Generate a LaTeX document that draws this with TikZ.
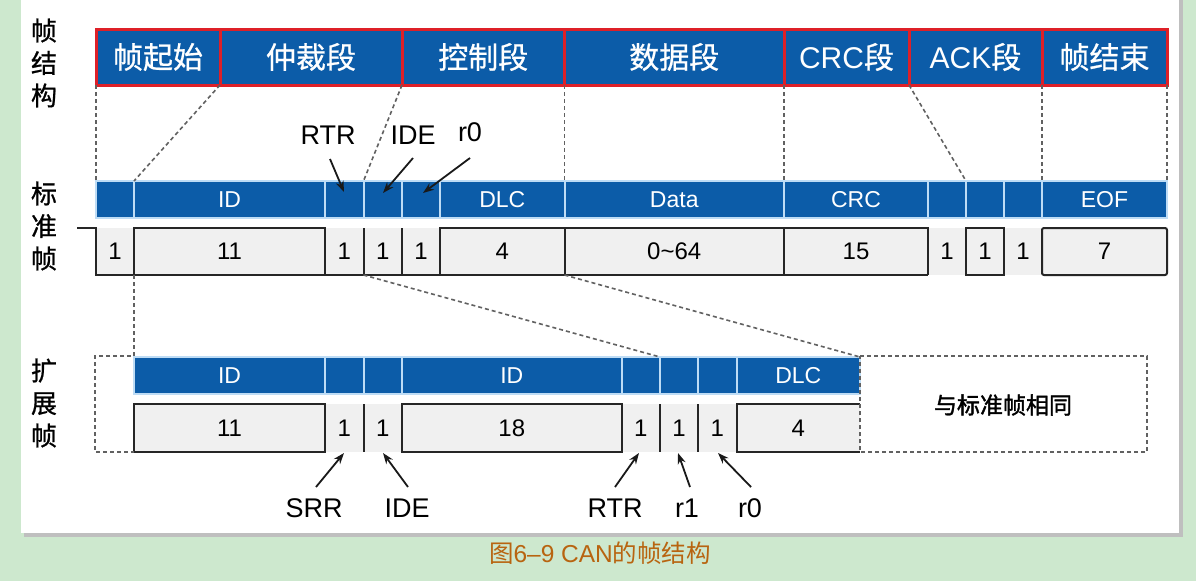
\documentclass[tikz,border=0pt]{standalone}
\usepackage{fontspec}
\setmainfont{Liberation Sans}
\newfontfamily\cjk{Noto Sans CJK SC}
\newfontfamily\cjkb[FakeBold=1.5]{Noto Sans CJK SC}
\newfontfamily\cjkm[FakeBold=0.8]{Noto Sans CJK SC}
\usetikzlibrary{arrows.meta}
\definecolor{bgg}{RGB}{205,232,206}
\definecolor{cblue}{RGB}{12,92,168}
\definecolor{cred}{RGB}{222,32,40}
\definecolor{cgray}{RGB}{240,240,240}
\definecolor{cedge}{RGB}{190,220,245}
\definecolor{capc}{RGB}{184,100,16}
\tikzset{
  topseg/.style={draw=cred, line width=3pt, fill=cblue, text=white, font=\fontsize{30}{32}\selectfont, minimum height=56pt, inner sep=0pt, outer sep=0pt},
  bitcell/.style={draw=cedge, line width=2pt, fill=cblue, text=white, font=\fontsize{23}{25}\selectfont, minimum height=37pt, inner sep=0pt, outer sep=0pt},
  wave/.style={line width=2pt, draw=black!85},
  num/.style={font=\fontsize{24}{26}\selectfont, inner sep=0pt},
  lbl/.style={font=\fontsize{27}{29}\selectfont, inner sep=0pt},
  sidelbl/.style={font=\cjkm\fontsize{26}{32.5}\selectfont, align=center, inner sep=0pt},
  guide/.style={draw=black!62, line width=1.6pt, dash pattern=on 4pt off 3pt},
  ptr/.style={-{Stealth[length=11pt,width=8pt]}, line width=1.8pt, draw=black!90}
}
\begin{document}
\begin{tikzpicture}[x=1pt,y=-1pt]
\useasboundingbox (0,0) rectangle (1196,581);
\fill[bgg] (0,0) rectangle (1196,581);
\fill[black!25] (24,-5) rectangle (1183,537);
\fill[white] (21,-5) rectangle (1179,533);

% side labels
\node[sidelbl] (lf) at (44,63) {帧\\结\\构};
\node[sidelbl] (ls) at (44,226) {标\\准\\帧};
\node[sidelbl] (le) at (44,403) {扩\\展\\帧};

% top structure row
\node[topseg, minimum width=124pt] (sof) at (158,57) {\cjkm 帧起始};
\node[topseg, minimum width=182pt] (arb) at (311,57) {\cjkm 仲裁段};
\node[topseg, minimum width=162.5pt] (ctl) at (483.25,57) {\cjkm 控制段};
\node[topseg, minimum width=219.5pt] (dat) at (674.25,57) {\cjkm 数据段};
\node[topseg, minimum width=125pt] (crc) at (846.5,57) {CRC{\cjkm 段}};
\node[topseg, minimum width=133pt] (ack) at (975.5,57) {ACK{\cjkm 段}};
\node[topseg, minimum width=125pt] (eof) at (1104.5,57) {\cjkm 帧结束};

% standard bit bar
\node[bitcell, minimum width=38pt] (s1) at (115,199.5) {};
\node[bitcell, minimum width=191pt] (s2) at (229.5,199.5) {ID};
\node[bitcell, minimum width=38.5pt] (s3) at (344.25,199.5) {};
\node[bitcell, minimum width=38.5pt] (s4) at (382.75,199.5) {};
\node[bitcell, minimum width=38pt] (s5) at (421,199.5) {};
\node[bitcell, minimum width=124.5pt] (s6) at (502.25,199.5) {DLC};
\node[bitcell, minimum width=219.5pt] (s7) at (674.25,199.5) {Data};
\node[bitcell, minimum width=144pt] (s8) at (856,199.5) {CRC};
\node[bitcell, minimum width=38pt] (s9) at (947,199.5) {};
\node[bitcell, minimum width=38pt] (s10) at (985,199.5) {};
\node[bitcell, minimum width=38pt] (s11) at (1023,199.5) {};
\node[bitcell, minimum width=125pt] (s12) at (1104.5,199.5) {EOF};

% standard waveform
\fill[cgray] (96,228) rectangle (1167,275);
\draw[wave] (77,228) -| (96,275) -- (928,275);
\draw[wave] (134,275) |- (325,228) -- (325,275);
\draw[wave] (363.5,228) -- (363.5,275) (402,228) -- (402,275);
\draw[wave] (440,275) |- (928,228) -- (928,275);
\draw[wave] (564.5,228) -- (564.5,275) (784,228) -- (784,275);
\draw[wave] (966,228) rectangle (1004,275);
\draw[wave, rounded corners=2pt] (1042,228) rectangle (1167,275);
\foreach \x/\t/\n in {115/1/a,229.5/11/b,344.25/1/c,382.75/1/d,421/1/e,502.25/4/f,674.25/0\char`~64/g,856/15/h,947/1/i,985/1/j,1023/1/k,1104.5/7/l}
  \node[num] (n\n) at (\x,251.5) {\t};

% extended bit bar
\node[bitcell, minimum width=191pt] (e1) at (229.5,375.5) {ID};
\node[bitcell, minimum width=38.5pt] (e2) at (344.25,375.5) {};
\node[bitcell, minimum width=38.5pt] (e3) at (382.75,375.5) {};
\node[bitcell, minimum width=219.5pt] (e4) at (511.75,375.5) {ID};
\node[bitcell, minimum width=38.5pt] (e5) at (640.75,375.5) {};
\node[bitcell, minimum width=38pt] (e6) at (679,375.5) {};
\node[bitcell, minimum width=38.5pt] (e7) at (717.25,375.5) {};
\node[bitcell, minimum width=123.5pt] (e8) at (798.25,375.5) {DLC};

% extended waveform
\fill[cgray] (134,404) rectangle (860,452);
\draw[wave] (134,404) rectangle (325,452);
\draw[wave] (363.5,404) -- (363.5,452);
\draw[wave] (402,404) rectangle (621.5,452);
\draw[wave] (660,404) -- (660,452) (698,404) -- (698,452);
\draw[wave] (860,404) -| (736.5,452) -- (860,452);
\foreach \x/\t/\n in {229.5/11/a,344.25/1/b,382.75/1/c,511.75/18/d,640.75/1/e,679/1/f,717.25/1/g,798.25/4/h}
  \node[num] (m\n) at (\x,428) {\t};

% dashed guides (top)
\draw[guide] (sof.south west) -- (s1.north west);
\draw[guide] (sof.south east) -- (s2.north west);
\draw[guide] (arb.south east) -- (s4.north west);
\draw[guide] (ctl.south east) -- (s7.north west);
\draw[guide] (dat.south east) -- (s8.north west);
\draw[guide] (crc.south east) -- (s10.north west);
\draw[guide] (ack.south east) -- (s12.north west);
\draw[guide] (eof.south east) -- (s12.north east);

% dashed guides (middle)
\coordinate (w2) at (134,275);
\coordinate (w4) at (363.5,275);
\coordinate (w7) at (564.5,275);
\draw[guide] (w2) -- (134,356) -- (95,356) -- (95,452) -- (134,452);
\draw[guide] (w4) -- (e6.north west);
\draw[guide] (w7) -- (e8.north east);
\draw[guide] (860,356) -- (1147,356) -- (1147,452) -- (860,452) -- cycle;
\node[font=\cjkb\fontsize{23}{25}\selectfont, inner sep=0pt] (same) at (1003,405) {与标准帧相同};

% standard labels and arrows
\node[lbl] (rtr1) at (328,135) {RTR};
\node[lbl] (ide1) at (413,135) {IDE};
\node[lbl] (rz1) at (470,132) {r0};
\coordinate (a1) at (330,159); \coordinate (t1) at (344,192);
\coordinate (a2) at (413,158); \coordinate (t2) at (383,193);
\coordinate (a3) at (470,158); \coordinate (t3) at (423,193);
\draw[ptr] (a1) -- (t1);
\draw[ptr] (a2) -- (t2);
\draw[ptr] (a3) -- (t3);

% extended labels and arrows
\node[lbl] (srr) at (314,508) {SRR};
\node[lbl] (ide2) at (407,508) {IDE};
\node[lbl] (rtr2) at (615,508) {RTR};
\node[lbl] (r1) at (687,508) {r1};
\node[lbl] (rz2) at (750,508) {r0};
\coordinate (b1) at (316,487); \coordinate (u1) at (344,453);
\coordinate (b2) at (408,487); \coordinate (u2) at (383,453);
\coordinate (b3) at (615,487); \coordinate (u3) at (639,453);
\coordinate (b4) at (690,487); \coordinate (u4) at (678,453);
\coordinate (b5) at (751,487); \coordinate (u5) at (718,453);
\draw[ptr] (b1) -- (u1);
\draw[ptr] (b2) -- (u2);
\draw[ptr] (b3) -- (u3);
\draw[ptr] (b4) -- (u4);
\draw[ptr] (b5) -- (u5);

% caption
\node[text=capc, font=\fontsize{24.5}{26}\selectfont, inner sep=0pt] (cap) at (600,553) {{\cjk 图}6–9 CAN{\cjk 的帧结构}};
\end{tikzpicture}
\end{document}
